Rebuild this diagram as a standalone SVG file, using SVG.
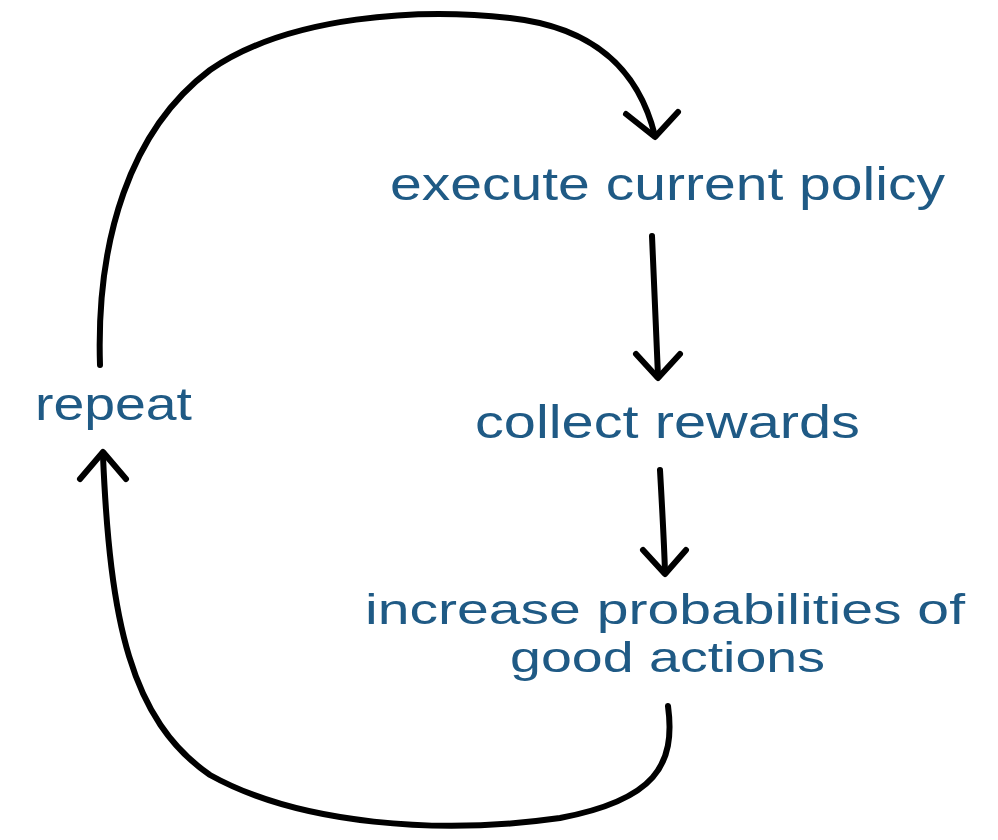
<svg xmlns="http://www.w3.org/2000/svg" width="998" height="840" viewBox="0 0 998 840">
<style>
.lbl{font-family:"Liberation Sans","DejaVu Sans",sans-serif;font-size:46px;fill:#1f5a85}
.sm{font-size:42px}
.ln{fill:none;stroke:#000;stroke-width:6;stroke-linecap:round;stroke-linejoin:round}
</style>
<rect width="998" height="840" fill="#fff"/>
<g id="connectors">
<path class="ln" d="M100,365 C96,240 130,130 210,70 C290,15 420,8 510,18 C600,28 640,75 655,136"/>
<path class="ln" d="M626,114 L655,137 L678,112"/>
<path class="ln" d="M652,236 C654,280 656,330 658,376"/>
<path class="ln" d="M636,354 L658,378 L680,354"/>
<path class="ln" d="M660,470 C662,505 664,540 665,572"/>
<path class="ln" d="M643,550 L665,574 L686,550"/>
<path class="ln" d="M668,706 C676,765 655,800 560,818 C440,835 300,825 210,775 C130,720 110,620 103,456"/>
<path class="ln" d="M80,479 L103,452 L126,479"/>
</g>
<g id="execute"><text class="lbl" x="390" y="200" textLength="555" lengthAdjust="spacingAndGlyphs">execute current policy</text></g>
<g id="collect"><text class="lbl" x="475" y="438" textLength="385" lengthAdjust="spacingAndGlyphs">collect rewards</text></g>
<g id="repeat"><text class="lbl" x="35" y="420" textLength="157" lengthAdjust="spacingAndGlyphs">repeat</text></g>
<g id="increase"><text class="lbl sm" x="365" y="624" textLength="600" lengthAdjust="spacingAndGlyphs">increase probabilities of</text><text class="lbl sm" x="510" y="672" textLength="315" lengthAdjust="spacingAndGlyphs">good actions</text></g>
</svg>
